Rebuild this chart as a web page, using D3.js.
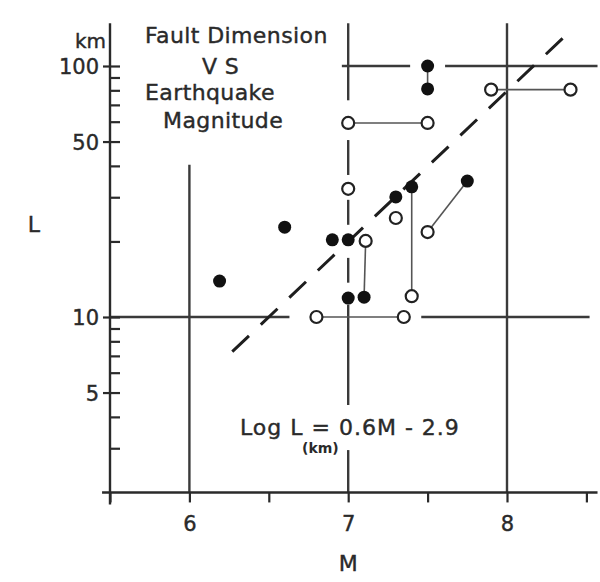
<!DOCTYPE html>
<html><head><meta charset="utf-8">
<script src="https://cdn.jsdelivr.net/npm/d3@7"></script>
<style>html,body{margin:0;padding:0;background:#fff}</style>
</head><body>
<svg id="chart" width="600" height="582"></svg>
<script>
// Fault length L (km) against earthquake magnitude M

// Solid dots
const filledPts = [
  {m:6.19, l:13.9}, {m:6.60, l:22.8}, {m:6.90, l:20.3}, {m:7.00, l:20.3},
  {m:7.00, l:11.9}, {m:7.10, l:12.0}, {m:7.30, l:30.1}, {m:7.40, l:33.0},
  {m:7.50, l:100},  {m:7.50, l:81},   {m:7.75, l:34.8}
];
// Hollow dots
const openPts = [
  {m:7.11, l:20.1}, {m:7.00, l:32.4}, {m:7.00, l:59.3}, {m:7.50, l:59.3},
  {m:7.90, l:80.5}, {m:8.40, l:80.5}, {m:7.30, l:24.8}, {m:7.40, l:12.1},
  {m:7.50, l:21.8}, {m:6.80, l:10.0}, {m:7.35, l:10.0}
];
// Pairs of estimates joined for the same event
const links = [
  [{m:7.11, l:20.1}, {m:7.10, l:12.0}],
  [{m:7.00, l:59.3}, {m:7.50, l:59.3}],
  [{m:7.50, l:100},  {m:7.50, l:81}],
  [{m:7.90, l:80.5}, {m:8.40, l:80.5}],
  [{m:7.40, l:33.0}, {m:7.40, l:12.1}],
  [{m:7.75, l:34.8}, {m:7.50, l:21.8}],
  [{m:6.80, l:10.0}, {m:7.35, l:10.0}]
];
// Reference rules (broken where marks and text sit)
const vRules = [
  {m:6, from:40.4, to:2}, {m:8, from:148, to:2},
  {m:7, from:148, to:73}, {m:7, from:50.7, to:36.8}, {m:7, from:29.3, to:23.3},
  {m:7, from:17.2, to:13.7}, {m:7, from:11.2, to:4.46}, {m:7, from:2.95, to:2}
];
const hRules = [
  {l:100, from:6.96, to:7.39}, {l:100, from:7.61, to:8.57},
  {l:10, from:5.5, to:6.63},   {l:10, from:7.46, to:8.52}
];
// Regression: log L = 0.6 M - 2.9
const fitSlope = 0.6, fitIntercept = -2.9;
const fitRange = [6.27, 8.35];

const mTicks = [5.5, 6, 6.5, 7, 7.5, 8, 8.5];
const mLabels = [6, 7, 8];
const lMajor = [5, 10, 50, 100];
const lMinor = [3, 4, 6, 7, 8, 9, 20, 30, 40, 60, 70, 80, 90];
const mExtent = [5.45, 8.57];
const lExtent = [2, 148];

const titleLines = ["Fault Dimension", "V S", "Earthquake", "Magnitude"];

const ink = "#2a2a2a";
const FONT = "'DejaVu Sans', sans-serif";

const svg = d3.select("#chart");
const x = d3.scaleLinear().domain([5.5, 8]).range([110, 507]);
const y = d3.scaleLog().domain([10, 100]).range([317, 66]);

// rules
const g = svg.append("g").attr("stroke", "#3a3a3a").attr("stroke-width", 2.4);
g.selectAll(".v").data(vRules).join("line")
  .attr("x1", d => x(d.m)).attr("x2", d => x(d.m))
  .attr("y1", d => y(d.from)).attr("y2", d => y(d.to));
g.selectAll(".h").data(hRules).join("line")
  .attr("y1", d => y(d.l)).attr("y2", d => y(d.l))
  .attr("x1", d => x(d.from)).attr("x2", d => x(d.to));

// axes
const axes = svg.append("g").attr("stroke", ink).attr("stroke-width", 2.4);
axes.append("line")
  .attr("x1", x(mExtent[0])).attr("x2", x(mExtent[1]))
  .attr("y1", y(lExtent[0])).attr("y2", y(lExtent[0]));
axes.append("line")
  .attr("x1", x(5.5)).attr("x2", x(5.5))
  .attr("y1", y(lExtent[1])).attr("y2", y(lExtent[0]) + 12);

const xAxis = svg.append("g").attr("transform", `translate(0,${y(lExtent[0])})`)
  .call(d3.axisBottom(x).tickValues(mTicks).tickSize(10)
    .tickFormat(d => mLabels.includes(d) ? d3.format("d")(d) : ""));
const yMinor = svg.append("g").attr("transform", `translate(${x(5.5)},0)`)
  .call(d3.axisRight(y).tickValues(lMinor.concat(lMajor)).tickSize(10).tickFormat(""));
const yMajor = svg.append("g").attr("transform", `translate(${x(5.5)},0)`)
  .call(d3.axisLeft(y).tickValues(lMajor).tickSize(7).tickPadding(4).tickFormat(d3.format("d")));

[xAxis, yMinor, yMajor].forEach(a => {
  a.select(".domain").remove();
  a.selectAll(".tick line").attr("stroke", ink).attr("stroke-width", 2.2);
  a.selectAll(".tick text").attr("fill", ink).attr("font-family", FONT).attr("font-size", 21)
    .attr("stroke", ink).attr("stroke-width", 0.4);
});
xAxis.selectAll(".tick text").attr("dy", "1.2em");
yMajor.selectAll(".tick text").attr("dy", "0.36em");

// fitted dashed line, dash pattern spread so both ends finish on a dash
const fitLine = d3.line().x(d => x(d)).y(d => y(Math.pow(10, fitSlope * d + fitIntercept)));
const fitPath = svg.append("path").datum(fitRange).attr("d", fitLine)
  .attr("fill", "none").attr("stroke", "#1e1e1e").attr("stroke-width", 3);
const fitLen = fitPath.node().getTotalLength();
const dash = 23, nGaps = Math.round((fitLen - dash) / 39);
const gap = (fitLen - dash) / nGaps - dash;
fitPath.attr("stroke-dasharray", `${dash},${gap}`);

// links
svg.append("g").selectAll("line").data(links).join("line")
  .attr("x1", d => x(d[0].m)).attr("y1", d => y(d[0].l))
  .attr("x2", d => x(d[1].m)).attr("y2", d => y(d[1].l))
  .attr("stroke", "#555").attr("stroke-width", 1.6);

// points
svg.append("g").selectAll("circle").data(openPts).join("circle")
  .attr("cx", d => x(d.m)).attr("cy", d => y(d.l)).attr("r", 6)
  .attr("fill", "#fff").attr("stroke", "#222").attr("stroke-width", 2.2);
svg.append("g").selectAll("circle").data(filledPts).join("circle")
  .attr("cx", d => x(d.m)).attr("cy", d => y(d.l)).attr("r", 6.5)
  .attr("fill", "#111");

// text
const txt = (s, px, py, size, anchor, extra) => {
  const t = svg.append("text").text(s).attr("x", px).attr("y", py)
    .attr("font-family", FONT).attr("font-size", size).attr("fill", ink)
    .attr("stroke", ink).attr("stroke-width", 0.4)
    .attr("text-anchor", anchor || "start");
  if (extra) extra(t);
  return t;
};
const titlePos = [[145, 43], [202, 74], [145, 100], [163, 128]];
titleLines.forEach((s, i) => txt(s, titlePos[i][0], titlePos[i][1], 22, "start",
  t => t.attr("letter-spacing", 0.4)));

txt("km", 106, 48, 20, "end");
txt("L", 34, 232, 22, "middle");
txt("M", x(7), 571, 22, "middle");
txt("Log L = 0.6M - 2.9", 240, 435, 22, "start", t => t.attr("letter-spacing", 1));
txt("(km)", 302, 453, 14, "start", t => t.attr("font-weight", "bold").attr("stroke-width", 0));
</script>
</body></html>
